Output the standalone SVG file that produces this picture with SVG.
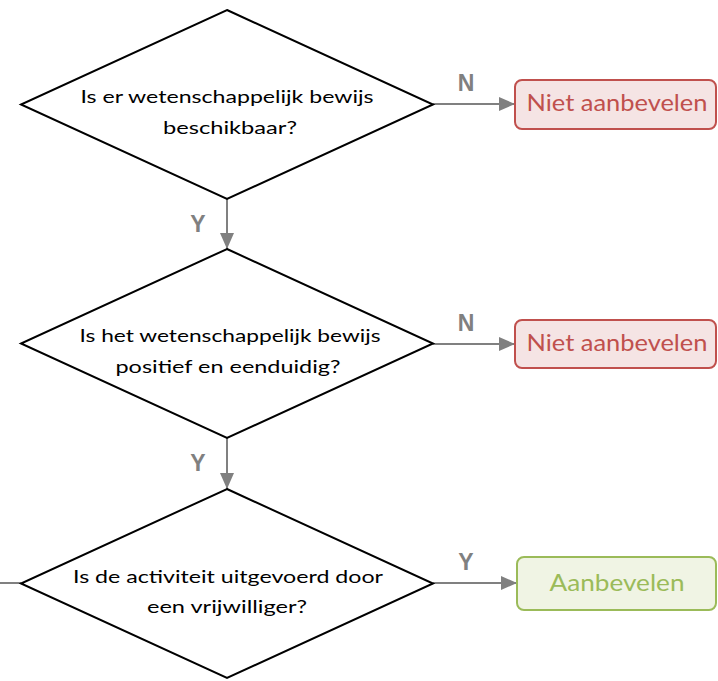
<svg xmlns="http://www.w3.org/2000/svg" width="718" height="681" viewBox="0 0 718 681">
<style>
.dia{fill:#ffffff;stroke:#000000;stroke-width:2}
.q{font-family:Lato,"Liberation Sans",sans-serif;font-size:18px;fill:#000000;text-anchor:middle}
.conn{stroke:#808080;stroke-width:2;fill:none}
.lbl{font-family:"Liberation Sans",Arial,sans-serif;font-size:23px;font-weight:bold;fill:#808080;text-anchor:middle}
.no rect{fill:#f5e4e4;stroke:#c0504d;stroke-width:2}
.no text{font-family:Lato,"Liberation Sans",sans-serif;font-size:23px;fill:#c0504d;text-anchor:middle}
.yes rect{fill:#f0f4e4;stroke:#9bbb59;stroke-width:2}
.yes text{font-family:Lato,"Liberation Sans",sans-serif;font-size:23px;fill:#9bbb59;text-anchor:middle}
</style>
<defs>
<marker id="ah" viewBox="0 0 16 14" refX="16" refY="7" markerWidth="16" markerHeight="14" markerUnits="userSpaceOnUse" orient="auto">
<path d="M0,0 L16,7 L0,14 Z" fill="#808080"/>
</marker>
</defs>
<g id="connectors">
<line class="conn" x1="227" y1="199" x2="227" y2="249" marker-end="url(#ah)"/>
<line class="conn" x1="227" y1="438" x2="227" y2="489" marker-end="url(#ah)"/>
<line class="conn" x1="433" y1="104" x2="515" y2="104" marker-end="url(#ah)"/>
<line class="conn" x1="433" y1="344" x2="515" y2="344" marker-end="url(#ah)"/>
<line class="conn" x1="433" y1="583" x2="517" y2="583" marker-end="url(#ah)"/>
<line class="conn" x1="0" y1="583" x2="21" y2="583"/>
<text class="lbl" x="466" y="91">N</text>
<text class="lbl" x="466" y="331">N</text>
<text class="lbl" x="466" y="570">Y</text>
<text class="lbl" x="198" y="232">Y</text>
<text class="lbl" x="198" y="471">Y</text>
</g>
<g id="q1">
<polygon class="dia" points="227,10 433,104.5 227,199 21,104.5"/>
<text class="q" x="227" y="103" textLength="293" lengthAdjust="spacingAndGlyphs">Is er wetenschappelijk bewijs</text>
<text class="q" x="230" y="134" textLength="134" lengthAdjust="spacingAndGlyphs">beschikbaar?</text>
</g>
<g id="q2">
<polygon class="dia" points="227,249 433,343.5 227,438 21,343.5"/>
<text class="q" x="230" y="342" textLength="301" lengthAdjust="spacingAndGlyphs">Is het wetenschappelijk bewijs</text>
<text class="q" x="228" y="373" textLength="225" lengthAdjust="spacingAndGlyphs">positief en eenduidig?</text>
</g>
<g id="q3">
<polygon class="dia" points="227,489 433,583.5 227,678 21,583.5"/>
<text class="q" x="228" y="583" textLength="310" lengthAdjust="spacingAndGlyphs">Is de activiteit uitgevoerd door</text>
<text class="q" x="227" y="613" textLength="160" lengthAdjust="spacingAndGlyphs">een vrijwilliger?</text>
</g>
<g id="r1" class="no">
<rect x="515" y="80" width="201" height="49" rx="7"/>
<text x="617" y="111" textLength="181" lengthAdjust="spacingAndGlyphs">Niet aanbevelen</text>
</g>
<g id="r2" class="no">
<rect x="515" y="320" width="201" height="48" rx="7"/>
<text x="617" y="351" textLength="181" lengthAdjust="spacingAndGlyphs">Niet aanbevelen</text>
</g>
<g id="r3" class="yes">
<rect x="517" y="557" width="199" height="53" rx="7"/>
<text x="617" y="591" textLength="135" lengthAdjust="spacingAndGlyphs">Aanbevelen</text>
</g>
</svg>
